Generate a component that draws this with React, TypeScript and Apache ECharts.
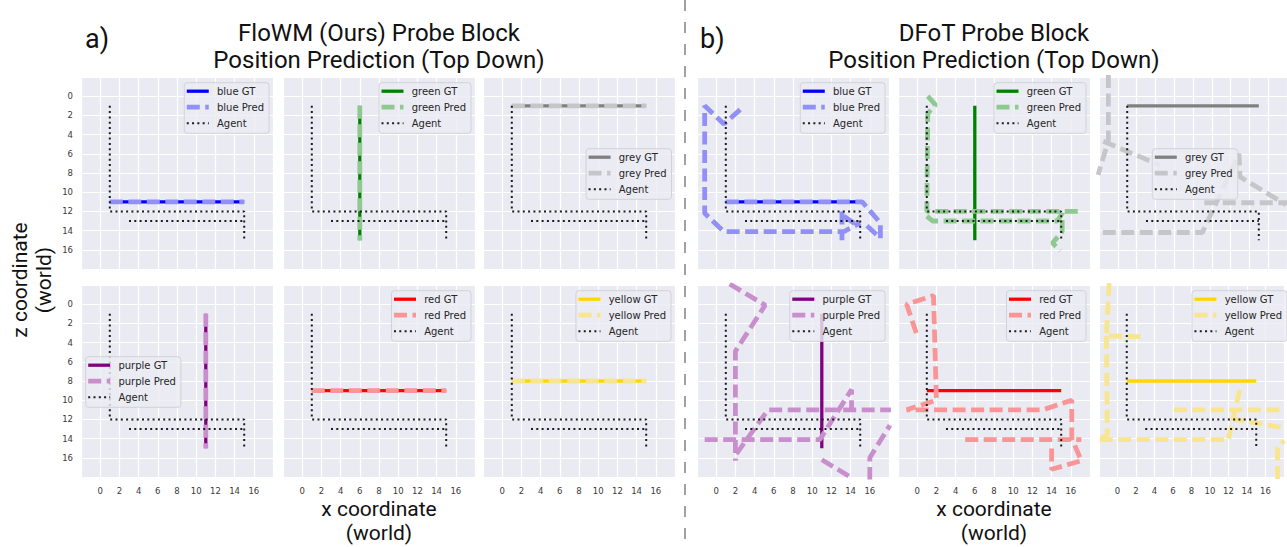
import React, { useEffect, useRef } from 'react';
import * as echarts from 'echarts';

// ---------- data ----------
const TICK_VALUES = [0, 2, 4, 6, 8, 10, 12, 14, 16];
const AXIS_MIN = -2;
const AXIS_MAX = 18;

const PANEL_TAGS = ['a)', 'b)'];
const PANEL_TITLES = ['FloWM (Ours) Probe Block', 'DFoT Probe Block'];
const PANEL_SUBTITLE = 'Position Prediction (Top Down)';
const X_LABEL = 'x coordinate\n(world)';
const Z_LABEL = 'z coordinate\n(world)';

const BLOCK_NAMES = ['blue', 'green', 'grey', 'purple', 'red', 'yellow'];
const GT_COLORS = ['#0000ff', '#008000', '#808080', '#800080', '#ff0000', '#ffd700'];
const PRED_COLORS = ['#9090f6', '#8fc991', '#c6c6ca', '#c98fcd', '#f99497', '#f7e58f'];

type Pt = [number, number] | null; // null = break in the path

const AGENT_MAIN: Pt[] = [[1, 1], [1, 12], [15, 12], [15, 15]];
const AGENT_RETURN: Pt[] = [[3, 13], [15, 13]];

const GT_BLUE: Pt[] = [[1, 11], [15, 11]];
const GT_GREEN: Pt[] = [[6, 1], [6, 15]];
const GT_GREY: Pt[] = [[1, 1], [15, 1]];
const GT_PURPLE: Pt[] = [[11, 1], [11, 15]];
const GT_RED: Pt[] = [[1, 9], [15, 9]];
const GT_YELLOW: Pt[] = [[1, 8], [15, 8]];

const FLOWM_BLUE: Pt[] = [[1, 11], [15, 11]];
const FLOWM_GREEN: Pt[] = [[6, 1], [6, 15]];
const FLOWM_GREY: Pt[] = [[1, 1], [15, 1]];
const FLOWM_PURPLE: Pt[] = [[11, 1], [11, 15]];
const FLOWM_RED: Pt[] = [[1, 9], [15, 9]];
const FLOWM_YELLOW: Pt[] = [[1, 8], [15, 8]];

const DFOT_BLUE: Pt[] = [
  [2.5, 1.4], [0.8, 2.9], [-1.2, 1.0], [-1.2, 12.2], [0.8, 14.1], [13.3, 14.1], [15.0, 13.2], null,
  [13.1, 12.0], [13.1, 15.0], null,
  [13.3, 12.5], [14.9, 13.6], null,
  [1, 11], [15.2, 11], [17.1, 13.2], [17.1, 14.8], [15.4, 13.2],
];
const DFOT_GREEN: Pt[] = [
  [1.1, 0.0], [1.9, 0.9], [1.1, 1.8], [1.0, 12.0], [17.2, 12.0], null,
  [1.0, 12.5], [1.6, 13.0], [14.6, 13.0], [15.1, 12.2], [15.1, 14.1], [14.1, 15.3], [14.9, 16.1],
];
const DFOT_GREY: Pt[] = [
  [-1.0, -2.2], [-1.0, 4.6], [-2.1, 8.2], null,
  [-1.55, 4.7], [2.6, 6.4], [4.5, 7.2], null,
  [-1.6, 14.2], [9.0, 14.2], [12.9, 6.0], [13.0, 8.4], [17.9, 11.3], null,
  [9.2, 11.1], [18.0, 11.1],
];
const DFOT_PURPLE: Pt[] = [
  [1.4, -2.1], [5.1, 0.1], [2.0, 4.9], [2.0, 16.3], null,
  [-1.2, 14.1], [10.8, 14.1], [14.1, 8.9], [14.1, 11.0], null,
  [2.1, 15.6], [5.4, 11.0], [18.2, 11.0], null,
  [11.0, 16.2], [14.3, 18.2], null,
  [16.0, 18.3], [16.0, 16.0], [18.1, 12.6],
];
const DFOT_RED: Pt[] = [
  [-0.1, 3.0], [-1.1, 0.0], [1.7, -0.9], [2.0, 10.0], [-1.1, 11.0], [13.1, 11.0], [16.1, 10.0],
  [16.1, 14.0], [17.1, 16.3], [14.0, 17.2], [14.0, 15.0], null,
  [5.0, 14.1], [17.1, 14.1],
];
const DFOT_YELLOW: Pt[] = [
  [-0.9, -2.2], [-1.2, 3.3], [3.0, 3.4], null,
  [-1.2, 3.3], [-1.1, 13.6], [-2.1, 14.1], [12.0, 14.1], [13.2, 8.9], null,
  [6.1, 11.0], [18.0, 11.0], null,
  [12.3, 11.9], [18.0, 12.9], null,
  [17.3, 18.2], [17.3, 15.0], [18.0, 14.2],
];

const GT_PATHS = [GT_BLUE, GT_GREEN, GT_GREY, GT_PURPLE, GT_RED, GT_YELLOW];
const PRED_PATHS = [
  [FLOWM_BLUE, FLOWM_GREEN, FLOWM_GREY, FLOWM_PURPLE, FLOWM_RED, FLOWM_YELLOW],
  [DFOT_BLUE, DFOT_GREEN, DFOT_GREY, DFOT_PURPLE, DFOT_RED, DFOT_YELLOW],
];
// legend placement per subplot (matplotlib "best")
const LEGEND_LOCS = [
  ['ur', 'ur', 'cr', 'cl', 'ur', 'ur'],
  ['ur', 'ur', 'c', 'ur', 'ur', 'ur'],
];

// ---------- layout ----------
const COL_LEFT = [[81, 283, 483], [697, 898, 1099]];
const ROW_TOP = [77, 285];
const PLOT = 192;
const TITLE_FONT = 'Roboto, "Noto Sans", sans-serif';
const SMALL_FONT = '"DejaVu Sans", sans-serif';

const toData = (pts: Pt[]) => pts.map((p) => (p ? p : ['-', '-']));

let measureCtx: CanvasRenderingContext2D | null = null;
function textWidth(s: string, font: string) {
  if (!measureCtx) measureCtx = document.createElement('canvas').getContext('2d');
  if (!measureCtx) return s.length * 6;
  measureCtx.font = font;
  return measureCtx.measureText(s).width;
}

function buildOption() {
  const grid: any[] = [];
  const xAxis: any[] = [];
  const yAxis: any[] = [];
  const series: any[] = [];
  const graphic: any[] = [];

  const fmt = (v: number) => (TICK_VALUES.includes(v) ? String(v) : '');

  for (let p = 0; p < 2; p++) {
    for (let k = 0; k < 6; k++) {
      const g = p * 6 + k;
      const row = Math.floor(k / 3);
      const col = k % 3;
      const left = COL_LEFT[p][col];
      const top = ROW_TOP[row];
      grid.push({
        left, top, width: PLOT, height: PLOT, show: true,
        backgroundColor: '#EAEAF2', borderWidth: 0,
      });
      xAxis.push({
        type: 'value', gridIndex: g, min: AXIS_MIN, max: AXIS_MAX, interval: 2,
        axisLine: { show: false }, axisTick: { show: false },
        splitLine: { show: true, lineStyle: { color: '#ffffff', width: 1.2 } },
        axisLabel: {
          show: row === 1, margin: 9, color: '#3a3a3a', fontSize: 8.5,
          fontFamily: SMALL_FONT, formatter: fmt,
        },
      });
      yAxis.push({
        type: 'value', gridIndex: g, min: AXIS_MIN, max: AXIS_MAX, interval: 2, inverse: true,
        axisLine: { show: false }, axisTick: { show: false },
        splitLine: { show: true, lineStyle: { color: '#ffffff', width: 1.2 } },
        axisLabel: {
          show: p === 0 && col === 0, margin: 8, color: '#3a3a3a', fontSize: 8.5,
          fontFamily: SMALL_FONT, formatter: fmt,
        },
      });
      const name = BLOCK_NAMES[k];
      const common = { type: 'line', xAxisIndex: g, yAxisIndex: g, symbol: 'none', silent: true, connectNulls: false };
      series.push({
        ...common, name: `${name} GT`, z: 2, data: toData(GT_PATHS[k]),
        lineStyle: { color: GT_COLORS[k], width: 3.3 },
      });
      series.push({
        ...common, name: `${name} Pred`, z: 3, data: toData(PRED_PATHS[p][k]),
        lineStyle: { color: PRED_COLORS[k], width: 4.8, type: [13, 5.5] },
      });
      for (const path of [AGENT_MAIN, AGENT_RETURN]) {
        series.push({
          ...common, name: 'Agent', z: 4, data: toData(path),
          lineStyle: { color: '#1c1c1c', width: 2, type: [2, 3.3] },
        });
      }

      // legend box
      const labels = [`${name} GT`, `${name} Pred`, 'Agent'];
      const lf = `10px ${SMALL_FONT}`;
      const tw = Math.max(...labels.map((s) => textWidth(s, lf)));
      const w = 32.7 + tw + 5;
      const h = 50.6;
      const loc = LEGEND_LOCS[p][k];
      let lx = left + PLOT - 4 - w;
      let ly = top + 5.7;
      if (loc === 'cr') { lx = left + PLOT - 3.5 - w; ly = top + PLOT / 2 - h / 2 + 1; }
      if (loc === 'cl') { lx = left + 4.7; ly = top + PLOT / 2 - h / 2 + 1; }
      if (loc === 'c') { lx = left + PLOT / 2 - w / 2; ly = top + PLOT / 2 - h / 2 + 1; }
      graphic.push({
        type: 'rect', z: 100, silent: true,
        shape: { x: lx, y: ly, width: w, height: h, r: 3 },
        style: { fill: 'rgba(236,236,243,0.82)', stroke: '#d2d2d6', lineWidth: 1 },
      });
      const styles = [
        { stroke: GT_COLORS[k], lineWidth: 3.3 },
        { stroke: PRED_COLORS[k], lineWidth: 4.8, lineDash: [13, 5.5] },
        { stroke: '#1c1c1c', lineWidth: 2, lineDash: [2, 3.3] },
      ];
      for (let i = 0; i < 3; i++) {
        const cy = ly + 8.5 + 16 * i;
        graphic.push({
          type: 'line', z: 101, silent: true,
          shape: { x1: lx + 2.5, y1: cy, x2: lx + 24.5, y2: cy },
          style: styles[i],
        });
        graphic.push({
          type: 'text', z: 101, silent: true, x: lx + 32.7, y: cy,
          style: { text: labels[i], font: lf, fill: '#262626', verticalAlign: 'middle', align: 'left' },
        });
      }
    }

    // panel titles and tags
    const cx = COL_LEFT[p][1] + PLOT / 2;
    graphic.push({
      type: 'text', z: 100, silent: true, x: cx, y: 46,
      style: {
        text: `${PANEL_TITLES[p]}\n${PANEL_SUBTITLE}`, font: `24px ${TITLE_FONT}`,
        fill: '#111', align: 'center', verticalAlign: 'middle', lineHeight: 27,
      },
    });
    graphic.push({
      type: 'text', z: 100, silent: true, x: p === 0 ? 85 : 700, y: 39,
      style: { text: PANEL_TAGS[p], font: `27px ${TITLE_FONT}`, fill: '#111', align: 'left', verticalAlign: 'middle' },
    });
    graphic.push({
      type: 'text', z: 100, silent: true, x: cx, y: 521,
      style: {
        text: X_LABEL, font: `21px ${TITLE_FONT}`, fill: '#111',
        align: 'center', verticalAlign: 'middle', lineHeight: 24,
      },
    });
  }

  graphic.push({
    type: 'text', z: 100, silent: true, x: 32, y: 280, rotation: Math.PI / 2,
    style: {
      text: Z_LABEL, font: `21px ${TITLE_FONT}`, fill: '#111',
      align: 'center', verticalAlign: 'middle', lineHeight: 24,
    },
  });
  graphic.push({
    type: 'line', z: 100, silent: true,
    shape: { x1: 685, y1: 0, x2: 685, y2: 547 },
    style: { stroke: '#8a8a8a', lineWidth: 1.6, lineDash: [11, 11] },
  });

  return {
    animation: false,
    backgroundColor: '#ffffff',
    grid, xAxis, yAxis, series, graphic,
  };
}

export default function App() {
  const ref = useRef<HTMLDivElement>(null);
  useEffect(() => {
    if (!ref.current) return;
    const chart = echarts.init(ref.current, undefined, { renderer: 'svg' });
    chart.setOption(buildOption() as any);
    return () => chart.dispose();
  }, []);
  return (
    <div
      ref={ref}
      style={{ position: 'absolute', left: 0, top: 0, width: 1287, height: 547, background: '#fff' }}
    />
  );
}
